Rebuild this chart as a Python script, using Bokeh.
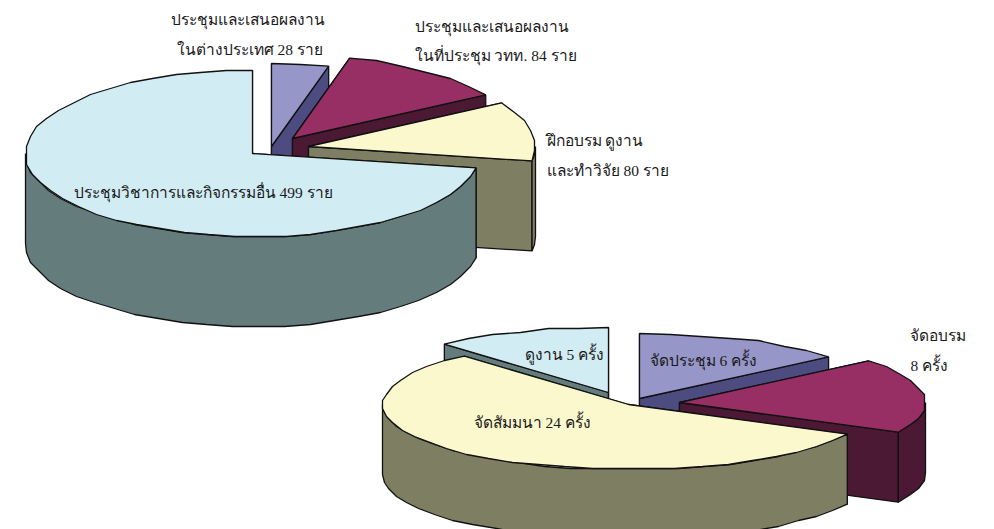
import math
from bokeh.plotting import figure
from bokeh.models import Range1d
from bokeh.core.properties import value
from bokeh.embed import file_html
from bokeh.resources import INLINE

# ---- data ----
upper_values = [28, 84, 80, 499]
lower_values = [6, 8, 24, 5]

upper_labels = ["ประชุมและเสนอผลงาน", "ในต่างประเทศ  28 ราย",
                "ประชุมและเสนอผลงาน", "ในที่ประชุม วทท. 84 ราย",
                "ฝึกอบรม ดูงาน", "และทำวิจัย 80 ราย",
                "ประชุมวิชาการและกิจกรรมอื่น 499 ราย"]
lower_labels = ["ดูงาน  5 ครั้ง", "จัดประชุม 6 ครั้ง", "จัดอบรม", "8  ครั้ง", "จัดสัมมนา 24 ครั้ง"]

# ---- styles ----
upper_top = ["#9696C8", "#982F64", "#FBF8CE", "#D2ECF3"]
upper_side = ["#4C4C80", "#4B1933", "#7E7F62", "#647C7C"]
lower_top = ["#9696C8", "#982F64", "#FBF8CE", "#D2ECF3"]
lower_side = ["#4C4C80", "#4B1933", "#7E7F62", "#647C7C"]

# ---- layout (page pixels) ----
upper_apex = [(271, 146), (292, 138), (308, 146), (252, 153)]
upper_r = (227, 83, 90)
upper_draw_order = [0, 1, 2, 3]
lower_apex = [(639, 398), (679, 402), (628, 404), (608, 392)]
lower_r = (246, 65, 70)
lower_draw_order = [3, 0, 1, 2]
FACETS_PER_RADIAN = 9  # the reference rims are visibly faceted
STEP = 2               # and slightly stair-stepped

upper_label_x = [170, 176, 414, 414, 546, 546, 73]
upper_label_y = [19, 49, 26, 55, 140, 170, 192]
lower_label_x = [524, 649, 909, 910, 473]
lower_label_y = [354, 360, 335, 365, 422]

FONT = "Liberation Serif"

p = figure(width=994, height=529, output_backend="svg", toolbar_location=None,
           x_range=Range1d(0, 994), y_range=Range1d(529, 0),
           min_border=0, outline_line_color=None)
p.axis.visible = False
p.grid.visible = False


def rim(apex, r, a):
    return apex[0] + r[0] * math.sin(a), apex[1] - r[1] * math.cos(a)


def arc(A, r, a0, a1):
    """Rim points from a0 to a1, faceted, with interior points snapped to a small grid."""
    n = max(2, int((a1 - a0) * FACETS_PER_RADIAN))
    pts = [rim(A, r, a0 + (a1 - a0) * k / n) for k in range(n + 1)]
    out = [pts[0]]
    for q in pts[1:-1]:
        out.append((round(q[0] / STEP) * STEP, round(q[1] / STEP) * STEP))
    out.append(pts[-1])
    return out


def draw_pie(values, apexes, r, order, tops, sides):
    total = sum(values)
    bounds = [0.0]
    for v in values:
        bounds.append(bounds[-1] + v / total * 2 * math.pi)
    D = r[2]
    style = dict(line_color="#111111", line_width=1.3)
    for i in order:
        a0, a1 = bounds[i], bounds[i + 1]
        A = apexes[i]
        # cut faces
        for a in (a0, a1):
            R = rim(A, r, a)
            p.patch([A[0], R[0], R[0], A[0]], [A[1], R[1], R[1] + D, A[1] + D],
                    fill_color=sides[i], **style)
        # outer wall
        w0, w1 = max(a0, math.pi / 2), min(a1, 3 * math.pi / 2)
        if w1 > w0:
            pts = arc(A, r, w0, w1)
            xs = [q[0] for q in pts] + [q[0] for q in reversed(pts)]
            ys = [q[1] for q in pts] + [q[1] + D for q in reversed(pts)]
            p.patch(xs, ys, fill_color=sides[i], **style)
        # top
        pts = arc(A, r, a0, a1)
        xs = [A[0]] + [q[0] for q in pts]
        ys = [A[1]] + [q[1] for q in pts]
        p.patch(xs, ys, fill_color=tops[i], **style)


draw_pie(upper_values, upper_apex, upper_r, upper_draw_order, upper_top, upper_side)
draw_pie(lower_values, lower_apex, lower_r, lower_draw_order, lower_top, lower_side)

for lx, ly, t in list(zip(upper_label_x, upper_label_y, upper_labels)) + \
        list(zip(lower_label_x, lower_label_y, lower_labels)):
    p.text([lx], [ly], text=[t], text_align="left", text_baseline="middle",
           text_font=value(FONT), text_font_size="15.5px", text_color="#1a1a1a")

open("out.html", "w").write(file_html(p, INLINE))
